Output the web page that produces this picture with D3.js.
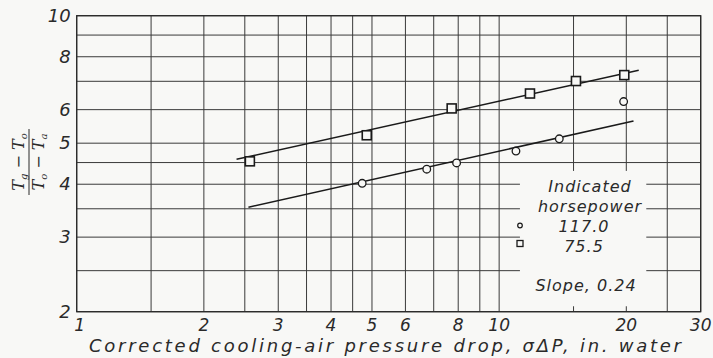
<!DOCTYPE html>
<html>
<head>
<meta charset="utf-8">
<script src="https://cdn.jsdelivr.net/npm/d3@7"></script>
<style>
  body { margin: 0; background: #f8f8f6; }
  svg { display: block; }
  text { font-family: "DejaVu Sans", "Liberation Sans", sans-serif; font-style: italic; fill: #2a2a2a; }
</style>
</head>
<body>
<svg id="chart" width="713" height="358"></svg>
<script>
// tick labels and grid positions
const xTicks = [1, 2, 3, 4, 5, 6, 8, 10, 20, 30];
const yTicks = [2, 3, 4, 5, 6, 8, 10];
const xGrid = [1, 1.5, 2, 2.5, 3, 3.5, 4, 4.5, 5, 6, 7, 8, 9, 10, 15, 20, 25, 30];
const yGrid = [2, 2.5, 3, 3.5, 4, 4.5, 5, 6, 7, 8, 9, 10];

// 117.0 hp (circles)
const hp117 = [
  { x: 4.74, y: 4.02 }, { x: 6.74, y: 4.34 }, { x: 7.93, y: 4.49 },
  { x: 10.96, y: 4.79 }, { x: 13.88, y: 5.12 }, { x: 19.71, y: 6.27 }
];
// 75.5 hp (squares)
const hp75 = [
  { x: 2.57, y: 4.53 }, { x: 4.86, y: 5.22 }, { x: 7.72, y: 6.04 },
  { x: 11.83, y: 6.55 }, { x: 15.2, y: 7.01 }, { x: 19.78, y: 7.24 }
];
// faired lines
const fit117 = [{ x: 2.55, y: 3.53 }, { x: 20.8, y: 5.64 }];
const fit75 = [{ x: 2.39, y: 4.58 }, { x: 21.4, y: 7.43 }];

const legendLabels = ["117.0", "75.5"];

const margin = { top: 15.7, right: 12.3, bottom: 46.3, left: 76.7 },
      width = 713 - margin.left - margin.right,
      height = 358 - margin.top - margin.bottom;

const root = d3.select("#chart");
const svg = root.append("g")
    .attr("transform", `translate(${margin.left},${margin.top})`);

const x = d3.scaleLog().domain([1, 30]).range([0, width]);
const y = d3.scaleLog().domain([2, 10]).range([height, 0]);

// grid
svg.append("g").selectAll("line")
    .data(xGrid)
    .enter().append("line")
    .attr("x1", d => x(d)).attr("x2", d => x(d))
    .attr("y1", 0).attr("y2", height)
    .attr("stroke", "#3a3a3a").attr("stroke-width", 1);

svg.append("g").selectAll("line")
    .data(yGrid)
    .enter().append("line")
    .attr("y1", d => y(d)).attr("y2", d => y(d))
    .attr("x1", 0).attr("x2", width)
    .attr("stroke", "#3a3a3a").attr("stroke-width", 1);

svg.append("rect")
    .attr("width", width).attr("height", height)
    .attr("fill", "none").attr("stroke", "#2a2a2a").attr("stroke-width", 1.3);

// tick labels
svg.append("g").selectAll("text")
    .data(xTicks)
    .enter().append("text")
    .attr("x", d => x(d) + (d === 1 ? 3 : 0))
    .attr("y", height + 19)
    .attr("text-anchor", "middle")
    .attr("font-size", 17)
    .text(d => d);

svg.append("g").selectAll("text")
    .data(yTicks)
    .enter().append("text")
    .attr("x", -6)
    .attr("y", d => y(d) + 6)
    .attr("text-anchor", "end")
    .attr("font-size", 18)
    .text(d => d);

// legend backing (interrupts grid)
svg.append("rect")
    .attr("x", x(11.2)).attr("y", y(4.3))
    .attr("width", x(22.3) - x(11.2))
    .attr("height", y(2.06) - y(4.3))
    .attr("fill", "#f8f8f6");

const line = d3.line().x(d => x(d.x)).y(d => y(d.y));

svg.append("path").datum(fit75).attr("d", line)
    .attr("fill", "none").attr("stroke", "#1a1a1a").attr("stroke-width", 1.5);
svg.append("path").datum(fit117).attr("d", line)
    .attr("fill", "none").attr("stroke", "#1a1a1a").attr("stroke-width", 1.5);

svg.selectAll("circle.pt")
    .data(hp117)
    .enter().append("circle")
    .attr("class", "pt")
    .attr("cx", d => x(d.x)).attr("cy", d => y(d.y))
    .attr("r", 3.8)
    .attr("fill", "#f8f8f6").attr("stroke", "#1a1a1a").attr("stroke-width", 1.3);

svg.selectAll("rect.pt")
    .data(hp75)
    .enter().append("rect")
    .attr("class", "pt")
    .attr("x", d => x(d.x) - 4.5).attr("y", d => y(d.y) - 4.5)
    .attr("width", 9).attr("height", 9)
    .attr("fill", "#f8f8f6").attr("stroke", "#1a1a1a").attr("stroke-width", 1.6);

// legend
const lg = root.append("g").attr("font-size", 16).attr("letter-spacing", 1);
lg.append("text").attr("x", 590).attr("y", 192).attr("text-anchor", "middle").text("Indicated");
lg.append("text").attr("x", 590).attr("y", 212).attr("text-anchor", "middle").text("horsepower");
lg.append("text").attr("x", 584).attr("y", 232).attr("text-anchor", "middle").text(legendLabels[0]);
lg.append("text").attr("x", 584).attr("y", 252).attr("text-anchor", "middle").text(legendLabels[1]);
lg.append("circle").attr("cx", 520).attr("cy", 225.5).attr("r", 2.3)
    .attr("fill", "none").attr("stroke", "#1a1a1a").attr("stroke-width", 1.2);
lg.append("rect").attr("x", 517).attr("y", 240.5).attr("width", 6).attr("height", 6)
    .attr("fill", "none").attr("stroke", "#1a1a1a").attr("stroke-width", 1.3);
lg.append("text").attr("x", 586).attr("y", 291).attr("text-anchor", "middle").text("Slope, 0.24");

// axis titles
root.append("text")
    .attr("x", 89).attr("y", 352)
    .attr("font-size", 18)
    .attr("textLength", 592)
    .attr("lengthAdjust", "spacing")
    .text("Corrected cooling-air pressure drop, σΔP, in. water");

const yl = root.append("g").attr("transform", "translate(29,162) rotate(-90)");
yl.append("line").attr("x1", -33).attr("x2", 33).attr("y1", 0).attr("y2", 0)
    .attr("stroke", "#2a2a2a").attr("stroke-width", 1);
const num = yl.append("text").attr("x", 0).attr("y", -5).attr("text-anchor", "middle")
    .attr("font-size", 16).style("font-family", "'DejaVu Serif', serif");
num.append("tspan").text("T");
num.append("tspan").attr("font-size", 10).attr("dy", 3).text("g");
num.append("tspan").attr("dy", -3).text(" − T");
num.append("tspan").attr("font-size", 10).attr("dy", 3).text("o");
const den = yl.append("text").attr("x", 0).attr("y", 15).attr("text-anchor", "middle")
    .attr("font-size", 16).style("font-family", "'DejaVu Serif', serif");
den.append("tspan").text("T");
den.append("tspan").attr("font-size", 10).attr("dy", 3).text("o");
den.append("tspan").attr("dy", -3).text(" − T");
den.append("tspan").attr("font-size", 10).attr("dy", 3).text("a");
</script>
</body>
</html>
